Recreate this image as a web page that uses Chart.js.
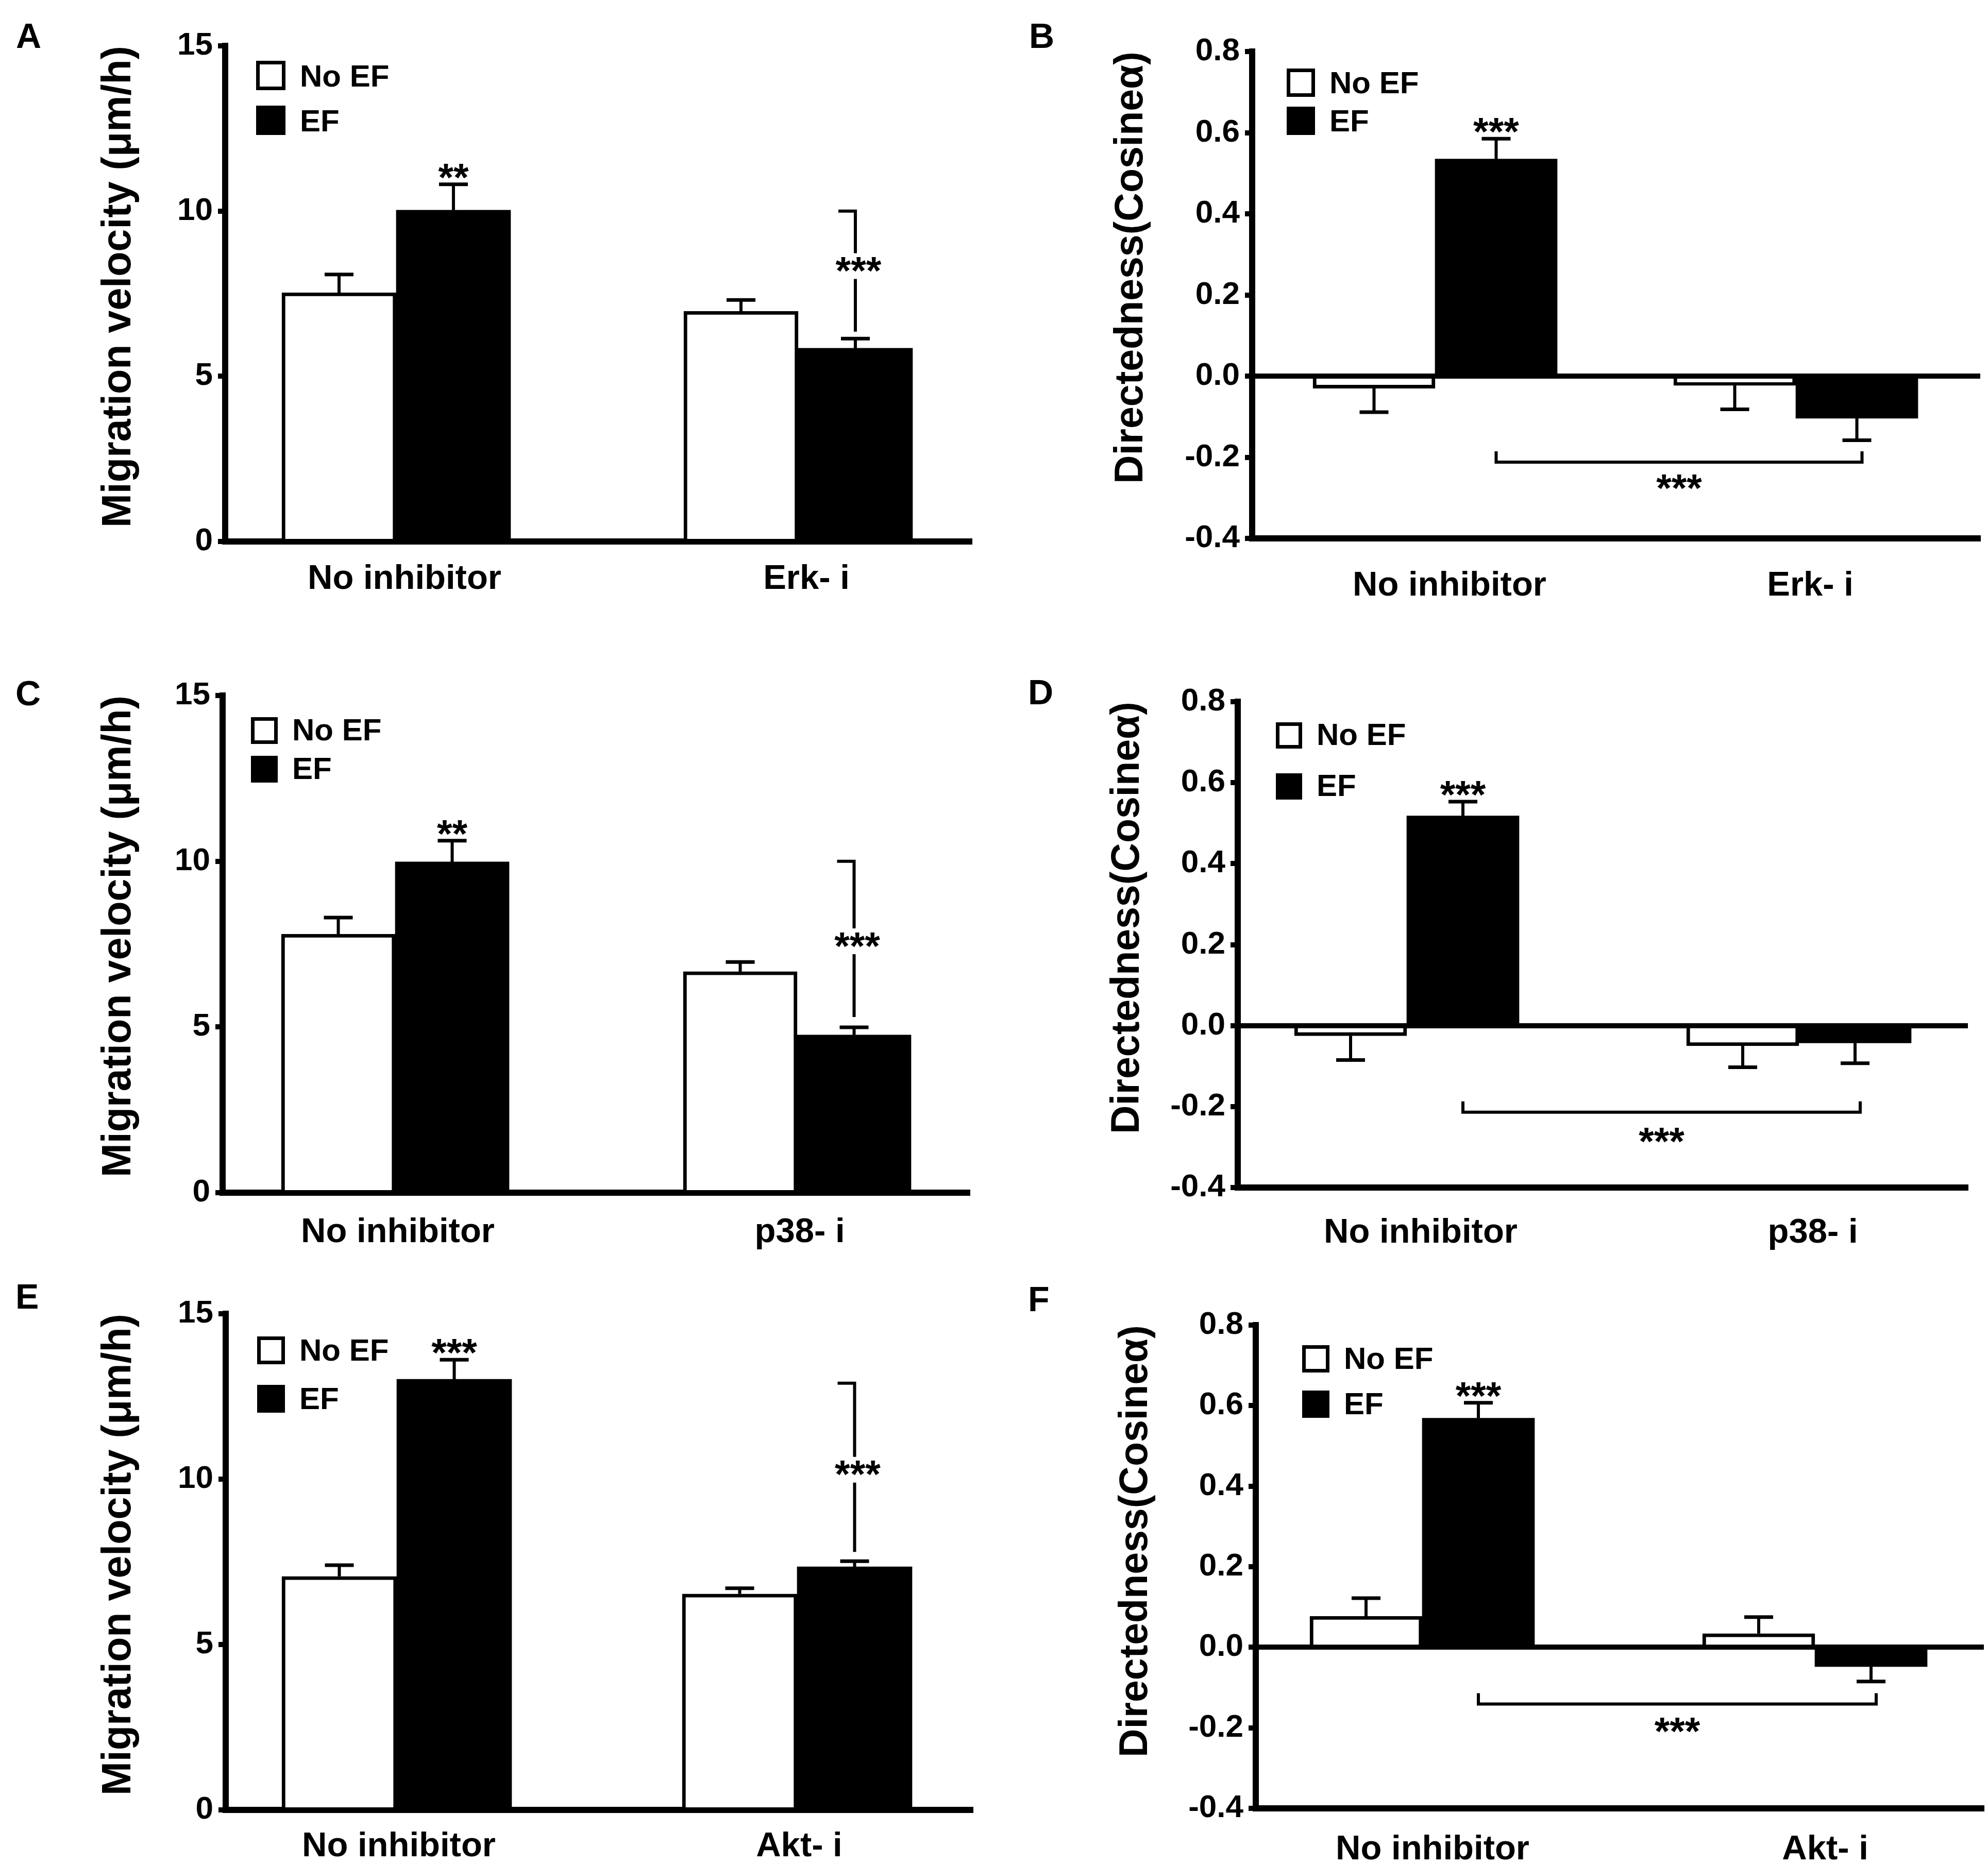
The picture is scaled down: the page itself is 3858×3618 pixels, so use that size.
<!DOCTYPE html>
<html>
<head>
<meta charset="utf-8">
<script src="https://cdn.jsdelivr.net/npm/chart.js@4.4.1/dist/chart.umd.min.js"></script>
<style>
  html, body { margin: 0; padding: 0; background: #fff; overflow: hidden; }
  #wrap { position: relative; width: 3858px; height: 3618px; overflow: hidden; }
  #wrap canvas { position: absolute; }
</style>
</head>
<body>
<div id="wrap"></div>
<script>
const FONT = "'Liberation Sans', Arial, Helvetica, sans-serif";
Chart.defaults.font.family = FONT;
Chart.defaults.color = '#000';

// categories and series
const catsErk = ['No inhibitor', 'Erk- i'];
const catsP38 = ['No inhibitor', 'p38- i'];
const catsAkt = ['No inhibitor', 'Akt- i'];
const seriesNames = ['No EF', 'EF'];

// tick labels
const velTicks = ['0', '5', '10', '15'];
const dirTicks = ['-0.4', '-0.2', '0.0', '0.2', '0.4', '0.6', '0.8'];

// A: migration velocity, Erk inhibitor
const aNoEF = [7.53, 6.97], aNoEFSem = [0.55, 0.34];
const aEF = [10.03, 5.85], aEFSem = [0.78, 0.29];
const aBracket = [10.0, 8.35, 6.35];   // top, label, bottom

// B: directedness, Erk inhibitor
const bNoEF = [-0.030, -0.023], bNoEFSem = [0.059, 0.059];
const bEF = [0.535, -0.104], bEFSem = [0.050, 0.054];
const bBracket = [-0.212, -0.263];      // line, label

// C: migration velocity, p38 inhibitor
const cNoEF = [7.80, 6.67], cNoEFSem = [0.50, 0.29];
const cEF = [9.98, 4.76], cEFSem = [0.64, 0.23];
const cBracket = [10.0, 7.6, 5.3];

// D: directedness, p38 inhibitor
const dNoEF = [-0.025, -0.050], dNoEFSem = [0.060, 0.053];
const dEF = [0.518, -0.043], dEFSem = [0.035, 0.050];
const dBracket = [-0.214, -0.273];

// E: migration velocity, Akt inhibitor
const eNoEF = [7.06, 6.53], eNoEFSem = [0.34, 0.17];
const eEF = [13.02, 7.35], eEFSem = [0.59, 0.17];
const eBracket = [12.9, 10.3, 7.8];

// F: directedness, Akt inhibitor
const fNoEF = [0.077, 0.034], fNoEFSem = [0.045, 0.041];
const fEF = [0.569, -0.048], fEFSem = [0.038, 0.037];
const fBracket = [-0.141, -0.196];

const CELL_W = 1929, CELL_H = 1206, CANVAS_H = CELL_H + 140;
const STAR_PX = 76;

const panels = [
  { letter: 'A', cell: [0, 0], letterAt: [31, 93], cats: catsErk, ticks: velTicks,
    noEF: aNoEF, noEFSem: aNoEFSem, ef: aEF, efSem: aEFSem, star: '**', bracket: aBracket,
    axis: { x: 437, top: 89, bottom: 1051, right: 1886 }, xRange: [-0.4256, 1.4321], bar: 222,
    labelPad: 33, labelOffset: 16, titleMid: 231, legend: { dx: 60, dy1: 29, dy2: 116, size: 57 } },
  { letter: 'B', cell: [1929, 0], letterAt: [1997, 93], cats: catsErk, ticks: dirTicks,
    noEF: bNoEF, noEFSem: bNoEFSem, ef: bEF, efSem: bEFSem, star: '***', bracket: bBracket,
    axis: { x: 2430, top: 100, bottom: 1045, right: 3843 }, xRange: [-0.5071, 1.5114], bar: 237,
    labelPad: 52, labelOffset: 28, titleMid: 2196, legend: { dx: 67, dy1: 33, dy2: 107, size: 55 } },
  { letter: 'C', cell: [0, 1206], letterAt: [30, 1369], cats: catsP38, ticks: velTicks,
    noEF: cNoEF, noEFSem: cNoEFSem, ef: cEF, efSem: cEFSem, star: '**', bracket: cBracket,
    axis: { x: 432, top: 1350, bottom: 2315, right: 1882 }, xRange: [-0.4295, 1.4295], bar: 221,
    labelPad: 37, labelOffset: 5, titleMid: 231, legend: { dx: 55, dy1: 42, dy2: 117, size: 52 } },
  { letter: 'D', cell: [1929, 1206], letterAt: [1995, 1367], cats: catsP38, ticks: dirTicks,
    noEF: dNoEF, noEFSem: dNoEFSem, ef: dEF, efSem: dEFSem, star: '***', bracket: dBracket,
    axis: { x: 2402, top: 1362, bottom: 2305, right: 3819 }, xRange: [-0.4310, 1.4310], bar: 218,
    labelPad: 48, labelOffset: 27, titleMid: 2189, legend: { dx: 74, dy1: 40, dy2: 139, size: 51 } },
  { letter: 'E', cell: [0, 2412], letterAt: [30, 2540], cats: catsAkt, ticks: velTicks,
    noEF: eNoEF, noEFSem: eNoEFSem, ef: eEF, efSem: eEFSem, star: '***', bracket: eBracket,
    axis: { x: 438, top: 2550, bottom: 3513, right: 1888 }, xRange: [-0.4273, 1.4389], bar: 223,
    labelPad: 31, labelOffset: 4, titleMid: 231, legend: { dx: 61, dy1: 44, dy2: 138, size: 54 } },
  { letter: 'F', cell: [1929, 2412], letterAt: [1995, 2545], cats: catsAkt, ticks: dirTicks,
    noEF: fNoEF, noEFSem: fNoEFSem, ef: fEF, efSem: fEFSem, star: '***', bracket: fBracket,
    axis: { x: 2437, top: 2572, bottom: 3510, right: 3850 }, xRange: [-0.4239, 1.4304], bar: 218,
    labelPad: 40, labelOffset: 20, titleMid: 2205, legend: { dx: 90, dy1: 39, dy2: 127, size: 53 } }
];

function seg(ctx, pts, w) {
  ctx.lineWidth = w;
  ctx.beginPath();
  pts.forEach(([x, y], i) => (i ? ctx.lineTo(x, y) : ctx.moveTo(x, y)));
  ctx.stroke();
}

// error bars, significance marks, legend and panel letter
function marks(p) {
  const isDir = p.ticks === dirTicks;
  return {
    id: 'marks',
    afterDatasetsDraw(chart) {
      const { ctx, scales: { y } } = chart;
      const bars = [chart.getDatasetMeta(0).data, chart.getDatasetMeta(1).data];
      const sets = [[p.noEF, p.noEFSem], [p.ef, p.efSem]];
      ctx.save();
      ctx.strokeStyle = '#000';
      ctx.fillStyle = '#000';
      sets.forEach(([m, s], d) => m.forEach((v, i) => {
        const x = bars[d][i].x;
        const end = v + (v >= 0 ? s[i] : -s[i]);
        const y0 = y.getPixelForValue(v), y1 = y.getPixelForValue(end);
        seg(ctx, [[x, y0], [x, y1]], 6);
        seg(ctx, [[x - 28, y1], [x + 28, y1]], 7);
      }));

      ctx.font = 'bold ' + STAR_PX + 'px ' + FONT;
      ctx.textAlign = 'center';
      ctx.textBaseline = 'alphabetic';
      const lift = STAR_PX * 0.47;
      const capTop = y.getPixelForValue(p.ef[0] + p.efSem[0]);
      ctx.fillText(p.star, bars[1][0].x, capTop + 12);

      if (isDir) {
        const yl = y.getPixelForValue(p.bracket[0]);
        const x1 = bars[1][0].x, x2 = bars[1][1].x + 10;
        seg(ctx, [[x1, yl - 21], [x1, yl], [x2, yl], [x2, yl - 21]], 6);
        ctx.fillText('***', (x1 + x2) / 2, y.getPixelForValue(p.bracket[1]) + lift);
      } else {
        const x = bars[1][1].x;
        const yt = y.getPixelForValue(p.bracket[0]);
        const ym = y.getPixelForValue(p.bracket[1]);
        const yb = y.getPixelForValue(p.bracket[2]);
        seg(ctx, [[x - 33, yt], [x, yt], [x, ym - 24]], 6);
        seg(ctx, [[x, ym + 26], [x, yb]], 6);
        ctx.fillText('***', x + 6, ym + lift);
      }
      ctx.restore();
    },
    afterDraw(chart) {
      const { ctx, chartArea: ca } = chart;
      const lg = p.legend;
      const bx = ca.left + lg.dx;
      ctx.save();
      [lg.dy1, lg.dy2].forEach((dy, d) => {
        const ds = chart.data.datasets[d];
        const by = ca.top + dy;
        ctx.fillStyle = ds.backgroundColor;
        ctx.fillRect(bx, by, lg.size, lg.size);
        ctx.lineWidth = 7;
        ctx.strokeStyle = '#000';
        ctx.strokeRect(bx + 3.5, by + 3.5, lg.size - 7, lg.size - 7);
        ctx.fillStyle = '#000';
        ctx.font = 'bold 60px ' + FONT;
        ctx.textAlign = 'left';
        ctx.textBaseline = 'alphabetic';
        ctx.fillText(ds.label, bx + lg.size + 28, by + lg.size - 7);
      });
      ctx.font = 'bold 68px ' + FONT;
      ctx.fillText(p.letter, p.letterAt[0] - p.cell[0], p.letterAt[1] - p.cell[1]);
      ctx.restore();
    }
  };
}

function makeChart(p) {
  const cv = document.createElement('canvas');
  cv.width = CELL_W;
  cv.height = CANVAS_H;
  cv.style.left = p.cell[0] + 'px';
  cv.style.top = p.cell[1] + 'px';
  cv.style.width = CELL_W + 'px';
  cv.style.height = CANVAS_H + 'px';
  document.getElementById('wrap').appendChild(cv);

  const isDir = p.ticks === dirTicks;
  const tickVals = p.ticks.map(Number);
  const [cx, cy] = p.cell;
  const ax = p.axis;
  const titleSize = isDir ? 77 : 79;

  new Chart(cv, {
    type: 'bar',
    data: {
      datasets: [
        { label: seriesNames[0], data: p.noEF.map((v, i) => ({ x: i, y: v })),
          backgroundColor: '#fff', borderColor: '#000', borderWidth: 7, barThickness: p.bar },
        { label: seriesNames[1], data: p.ef.map((v, i) => ({ x: i, y: v })),
          backgroundColor: '#000', borderColor: '#000', borderWidth: 0, barThickness: p.bar }
      ]
    },
    options: {
      responsive: false,
      animation: false,
      devicePixelRatio: 1,
      layout: {
        autoPadding: false,
        padding: { left: 0, top: ax.top - cy, right: cx + CELL_W - ax.right, bottom: 0 }
      },
      plugins: { legend: { display: false }, tooltip: { enabled: false } },
      scales: {
        x: {
          type: 'linear',
          min: p.xRange[0],
          max: p.xRange[1],
          offset: false,
          afterFit: (s) => { s.height = cy + CANVAS_H - ax.bottom; },
          afterBuildTicks: (s) => { s.ticks = p.cats.map((c, i) => ({ value: i })); },
          grid: { display: false, drawTicks: false },
          border: { display: true, color: '#000', width: 12 },
          ticks: {
            color: '#000',
            font: { size: 67, weight: 'bold' },
            padding: p.labelPad,
            labelOffset: p.labelOffset,
            maxRotation: 0,
            autoSkip: false,
            callback: (v) => p.cats[v]
          }
        },
        y: {
          type: 'linear',
          min: tickVals[0],
          max: tickVals[tickVals.length - 1],
          z: 1,
          afterFit: (s) => { s.width = ax.x - cx; },
          afterBuildTicks: (s) => { s.ticks = tickVals.map((v) => ({ value: v })); },
          grid: {
            display: true,
            drawOnChartArea: isDir,
            drawTicks: true,
            tickLength: 14,
            tickWidth: 10,
            tickColor: '#000',
            lineWidth: 10,
            color: (c) => (isDir && c.tick && Math.abs(c.tick.value) < 1e-9 ? '#000' : 'rgba(0,0,0,0)')
          },
          border: { display: true, color: '#000', width: 12 },
          ticks: {
            color: '#000',
            font: { size: 62, weight: 'bold' },
            padding: 10,
            callback: (v) => p.ticks[tickVals.findIndex((t) => Math.abs(t - v) < 1e-9)]
          },
          title: {
            display: true,
            text: isDir ? 'Directedness(Cosineα)' : 'Migration velocity (μm/h)',
            align: 'end',
            color: '#000',
            font: { size: titleSize, weight: 'bold' },
            padding: { top: p.titleMid - cx - titleSize * 0.6, bottom: 0 }
          }
        }
      }
    },
    plugins: [marks(p)]
  });
}

panels.forEach(makeChart);
</script>
</body>
</html>
